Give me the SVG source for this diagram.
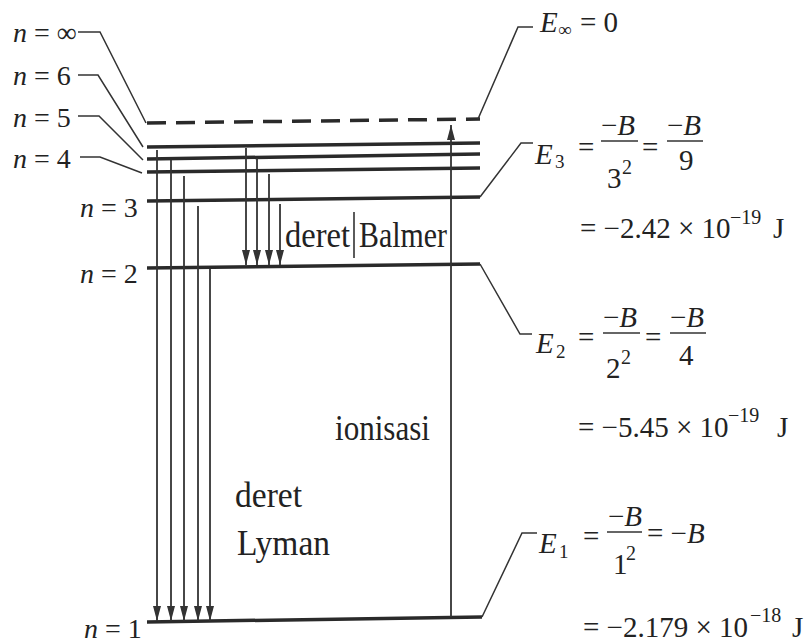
<svg xmlns="http://www.w3.org/2000/svg" width="806" height="643" viewBox="0 0 806 643" font-family="'Liberation Serif','Times New Roman',serif">
<style>
.lvl{stroke:#2a2a2a;stroke-width:3.5;fill:none}
.dash{stroke:#2a2a2a;stroke-width:3.5;fill:none;stroke-dasharray:19 10}
.ld{stroke:#333;stroke-width:1.5;fill:none}
.ar{stroke:#333;stroke-width:1.8;fill:none}
.bar{stroke:#333;stroke-width:1.6}
text{font-family:"Liberation Serif","Times New Roman",serif;fill:#222}
.m{font-size:28px}
.e{font-size:29px}
.it{font-style:italic}
.sub{font-size:19px}
.sup{font-size:20px}
.big{font-size:36px}
</style>
<defs>
<marker id="ah" viewBox="0 0 15 8" refX="15" refY="4" markerWidth="15" markerHeight="8" markerUnits="userSpaceOnUse" orient="auto">
<path d="M0,0 L15,4 L0,8 Z" fill="#333"/>
</marker>
</defs>
<rect width="806" height="643" fill="#fff"/>

<g id="level-inf">
<line class="dash" x1="147" y1="123" x2="480" y2="119"/>
<text class="m" x="13" y="42"><tspan class="it">n</tspan> = ∞</text>
</g>
<g id="level-6">
<line class="lvl" x1="147" y1="147" x2="480" y2="143"/>
<text class="m" x="13" y="85"><tspan class="it">n</tspan> = 6</text>
</g>
<g id="level-5">
<line class="lvl" x1="147" y1="159" x2="480" y2="154"/>
<text class="m" x="13" y="127"><tspan class="it">n</tspan> = 5</text>
</g>
<g id="level-4">
<line class="lvl" x1="147" y1="172" x2="480" y2="168"/>
<text class="m" x="13" y="168"><tspan class="it">n</tspan> = 4</text>
</g>
<g id="level-3">
<line class="lvl" x1="147" y1="201" x2="480" y2="197"/>
<text class="m" x="80" y="217"><tspan class="it">n</tspan> = 3</text>
</g>
<g id="level-2">
<line class="lvl" x1="147" y1="268" x2="480" y2="264"/>
<text class="m" x="80" y="283"><tspan class="it">n</tspan> = 2</text>
</g>
<g id="level-1">
<line class="lvl" x1="147" y1="622" x2="482" y2="617"/>
<text class="m" x="84" y="638"><tspan class="it">n</tspan> = 1</text>
</g>

<g id="connectors">
<path class="ld" d="M78,32 H100 L146,123"/>
<path class="ld" d="M78,75 H98 L143,147"/>
<path class="ld" d="M78,116 H99 L143,160"/>
<path class="ld" d="M80,157 H100 L142,173"/>
<path class="ld" d="M478,119 L518,27 H533"/>
<path class="ld" d="M480,197 L521,143 H533"/>
<path class="ld" d="M480,264 L520,334 H532"/>
<path class="ld" d="M482,617 L522,533 H537"/>
<line class="ar" x1="157" y1="150" x2="157" y2="621" marker-end="url(#ah)"/>
<line class="ar" x1="171" y1="160" x2="171" y2="621" marker-end="url(#ah)"/>
<line class="ar" x1="184" y1="176" x2="184" y2="621" marker-end="url(#ah)"/>
<line class="ar" x1="198" y1="206" x2="198" y2="621" marker-end="url(#ah)"/>
<line class="ar" x1="210" y1="269" x2="210" y2="621" marker-end="url(#ah)"/>
<line class="ar" x1="246" y1="148" x2="246" y2="265" marker-end="url(#ah)"/>
<line class="ar" x1="257" y1="158" x2="257" y2="265" marker-end="url(#ah)"/>
<line class="ar" x1="269" y1="174" x2="269" y2="265" marker-end="url(#ah)"/>
<line class="ar" x1="280" y1="204" x2="280" y2="265" marker-end="url(#ah)"/>
<line class="ar" x1="451" y1="617" x2="451" y2="125" marker-end="url(#ah)"/>
</g>

<g id="label-balmer">
<text class="big" x="285" y="247" font-size="35" textLength="65" lengthAdjust="spacingAndGlyphs">deret</text>
<line class="bar" x1="354" y1="212" x2="354" y2="258"/>
<text class="big" x="359" y="247" font-size="35" textLength="88" lengthAdjust="spacingAndGlyphs">Balmer</text>
</g>
<g id="label-ionisasi">
<text class="big" x="335" y="440" textLength="95" lengthAdjust="spacingAndGlyphs">ionisasi</text>
</g>
<g id="label-lyman">
<text class="big" x="235" y="507" textLength="67" lengthAdjust="spacingAndGlyphs">deret</text>
<text class="big" x="237" y="555" textLength="93" lengthAdjust="spacingAndGlyphs">Lyman</text>
</g>

<g id="eq-inf">
<text class="e it" x="540" y="32">E</text>
<text class="sub" x="558" y="36">∞</text>
<text class="e" x="580" y="32">= 0</text>
</g>

<g id="eq-3">
<text class="e it" x="535" y="164">E</text>
<text class="sub" x="555" y="168">3</text>
<text class="e" x="578" y="157">=</text>
<text class="e" x="601" y="135">−<tspan class="it">B</tspan></text>
<line class="bar" x1="601" y1="141" x2="638" y2="141"/>
<text class="e" x="607" y="188">3</text>
<text class="sup" x="622" y="174">2</text>
<text class="e" x="642" y="157">=</text>
<text class="e" x="667" y="135">−<tspan class="it">B</tspan></text>
<line class="bar" x1="667" y1="141" x2="703" y2="141"/>
<text class="e" x="679" y="170">9</text>
<text class="e" x="580" y="238">= −2.42 × 10</text>
<text class="sup" x="730" y="224">−19</text>
<text class="e" x="773" y="238">J</text>
</g>

<g id="eq-2">
<text class="e it" x="536" y="353">E</text>
<text class="sub" x="556" y="358">2</text>
<text class="e" x="578" y="347">=</text>
<text class="e" x="603" y="327">−<tspan class="it">B</tspan></text>
<line class="bar" x1="603" y1="333" x2="640" y2="333"/>
<text class="e" x="606" y="378">2</text>
<text class="sup" x="621" y="364">2</text>
<text class="e" x="645" y="347">=</text>
<text class="e" x="670" y="327">−<tspan class="it">B</tspan></text>
<line class="bar" x1="670" y1="333" x2="706" y2="333"/>
<text class="e" x="679" y="365">4</text>
<text class="e" x="578" y="437">= −5.45 × 10</text>
<text class="sup" x="728" y="422">−19</text>
<text class="e" x="777" y="437">J</text>
</g>

<g id="eq-1">
<text class="e it" x="539" y="553">E</text>
<text class="sub" x="559" y="558">1</text>
<text class="e" x="583" y="546">=</text>
<text class="e" x="608" y="526">−<tspan class="it">B</tspan></text>
<line class="bar" x1="607" y1="532" x2="642" y2="532"/>
<text class="e" x="613" y="574">1</text>
<text class="sup" x="626" y="560">2</text>
<text class="e" x="647" y="543">= −<tspan class="it">B</tspan></text>
<text class="e" x="583" y="637">= −2.179 × 10</text>
<text class="sup" x="750" y="622">−18</text>
<text class="e" x="792" y="637">J</text>
</g>
</svg>
